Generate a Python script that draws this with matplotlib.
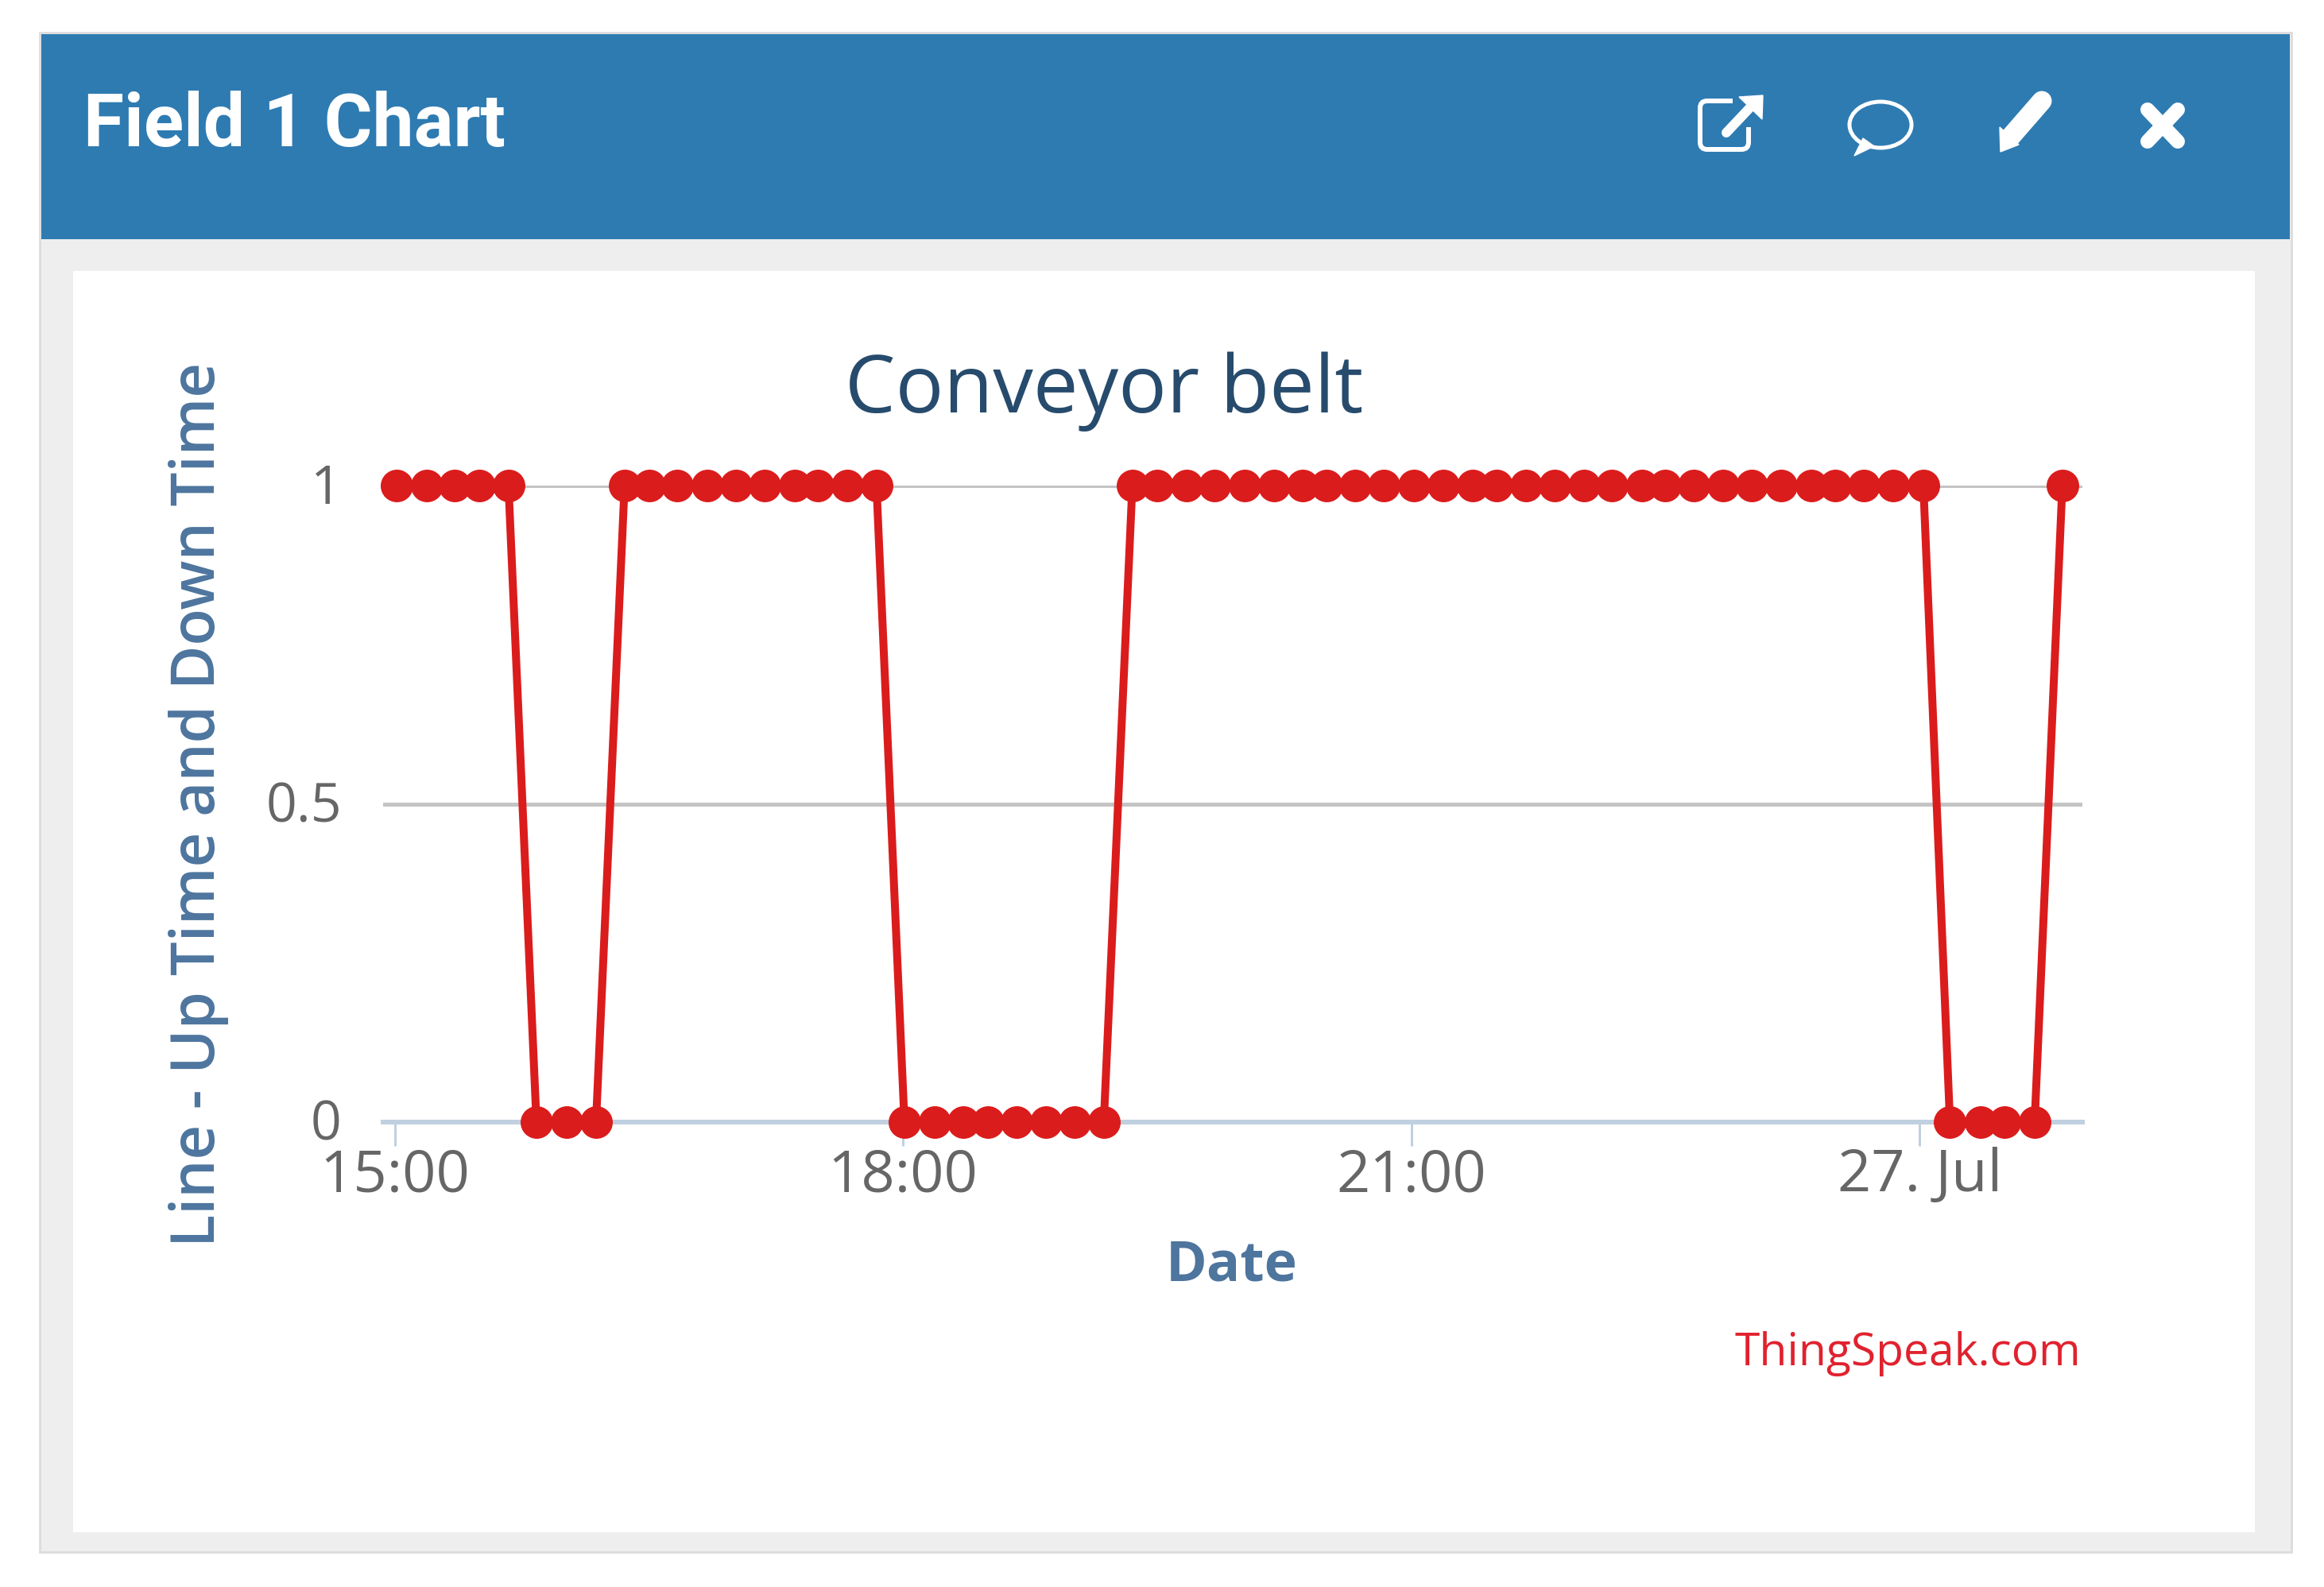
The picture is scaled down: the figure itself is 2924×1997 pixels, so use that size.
import matplotlib
matplotlib.use('Agg')
import matplotlib.pyplot as plt
from matplotlib.patches import Rectangle, Ellipse, Polygon, FancyBboxPatch
from matplotlib.transforms import ScaledTranslation

# minutes after 15:00
minutes = [0.8, 11.3, 21.2, 30, 40.3,
           50.2, 61, 71.3,
           81.4, 90.2, 100.1, 110.6, 120.8, 131.1, 141.6, 149.8, 160.2, 170.6,
           180.5, 191.2, 201.3, 210, 220.3, 230.5, 240.7, 251.1,
           261.2, 269.9, 280.4, 290.3, 300.9, 311.3, 321.5, 330, 340.1, 350.3,
           360.9, 371.3, 381.8, 390.2, 400.6, 410.6, 421.1, 431.1, 441.7, 449.8,
           460, 470.5, 480.5, 491, 501.6, 510.2, 520.1, 530.7, 541.3,
           550.7, 561.7, 570, 580.7,
           590.5]
status = [1, 1, 1, 1, 1,
          0, 0, 0,
          1, 1, 1, 1, 1, 1, 1, 1, 1, 1,
          0, 0, 0, 0, 0, 0, 0, 0,
          1, 1, 1, 1, 1, 1, 1, 1, 1, 1,
          1, 1, 1, 1, 1, 1, 1, 1, 1, 1,
          1, 1, 1, 1, 1, 1, 1, 1, 1,
          0, 0, 0, 0,
          1]
x_ticks = [0, 180, 360, 540]
x_labels = ['15:00', '18:00', '21:00', '27. Jul']
y_ticks = [0, 0.5, 1]
y_labels = ['0', '0.5', '1']

W, H = 2924, 1997
PX = 0.72  # points per pixel at dpi 100
FONT = 'Open Sans'
plt.rcParams['font.family'] = [FONT, 'DejaVu Sans']

fig = plt.figure(figsize=(W / 100, H / 100), dpi=100, facecolor='white')

# panel, drawn in pixel coordinates
bg = fig.add_axes([0, 0, 1, 1])
bg.set_xlim(0, W)
bg.set_ylim(H, 0)
bg.axis('off')
bg.add_patch(Rectangle((50, 41), 2833, 1912, fc='#eeeeee', ec='#dcdcdc', lw=2))
bg.add_patch(Rectangle((52, 43), 2829, 258, fc='#2e7bb2', ec='none'))
bg.add_patch(Rectangle((92, 341), 2745, 1587, fc='white', ec='none'))
bg.text(105, 158, 'Field 1 Chart', color='white', fontsize=93 * PX, fontweight='bold',
        family='Roboto', va='center', ha='left')

# header icons
bg.add_patch(FancyBboxPatch((2146, 134), 47, 47, boxstyle='round,pad=7,rounding_size=9',
                            fc='none', ec='white', lw=6 * PX))
bg.add_patch(Rectangle((2180, 120), 40, 40, fc='#2e7bb2', ec='none'))
bg.plot([2172, 2205], [167, 132], color='white', lw=12 * PX, solid_capstyle='round')
bg.add_patch(Polygon([[2188, 122], [2218, 120], [2217, 150]], fc='white', ec='white'))
bg.add_patch(Ellipse((2366, 157), 78, 58, fc='none', ec='white', lw=5 * PX))
bg.add_patch(Polygon([[2333, 196], [2344, 174], [2358, 184]], fc='white', ec='white'))
bg.plot([2529, 2569], [173, 127], color='white', lw=25 * PX, solid_capstyle='round')
bg.add_patch(Polygon([[2516, 160], [2540, 182], [2517, 191]], fc='white', ec='white'))
bg.plot([2702, 2740], [138, 178], color='white', lw=18 * PX, solid_capstyle='round')
bg.plot([2740, 2702], [138, 178], color='white', lw=18 * PX, solid_capstyle='round')

# chart
x0, x1, y_top, y_bot = 482, 2620, 611, 1412
ax = fig.add_axes([x0 / W, 1 - y_bot / H, (x1 - x0) / W, (y_bot - y_top) / H])
ax.patch.set_alpha(0)
ax.plot(minutes, status, color='#db1c1c', lw=10 * PX, marker='o', ms=41 * PX,
        mew=0, clip_on=False, zorder=5)
ax.set_xlim(-4.1, 597.6)
ax.set_ylim(0, 1)
for s in ['top', 'left', 'right']:
    ax.spines[s].set_visible(False)
ax.spines['bottom'].set_color('#c0d0e0')
ax.spines['bottom'].set_linewidth(6 * PX)
ax.grid(axis='y', color='#c4c4c4', lw=5 * PX)
ax.set_axisbelow(True)
ax.set_xticks(x_ticks, x_labels)
ax.set_yticks(y_ticks, y_labels)
ax.tick_params(axis='x', length=30 * PX, width=3 * PX, color='#c0d0e0', labelcolor='#666666',
               labelsize=74 * PX, pad=1)
ax.tick_params(axis='y', length=0, labelcolor='#666666', labelsize=68 * PX, pad=52 * PX)
# small lift keeps the 0 label clear of the 15:00 label
up = ScaledTranslation(0, 3 / 100, fig.dpi_scale_trans)
for lab in ax.get_yticklabels():
    lab.set_transform(lab.get_transform() + up)

# titles and credit
bg.text(1389, 493, 'Conveyor belt', color='#274b6d', fontsize=101 * PX, ha='center', va='center')
bg.text(250, 1012, 'Line - Up Time and Down Time', color='#4d759e', fontsize=76 * PX,
        fontweight='semibold', rotation=90, ha='center', va='center')
bg.text(1550, 1594, 'Date', color='#4d759e', fontsize=70 * PX, fontweight='bold',
        ha='center', va='center')
bg.text(2618, 1703, 'ThingSpeak.com', color='#e0222e', fontsize=57 * PX, ha='right', va='center')

fig.savefig('out.png', dpi=100)
